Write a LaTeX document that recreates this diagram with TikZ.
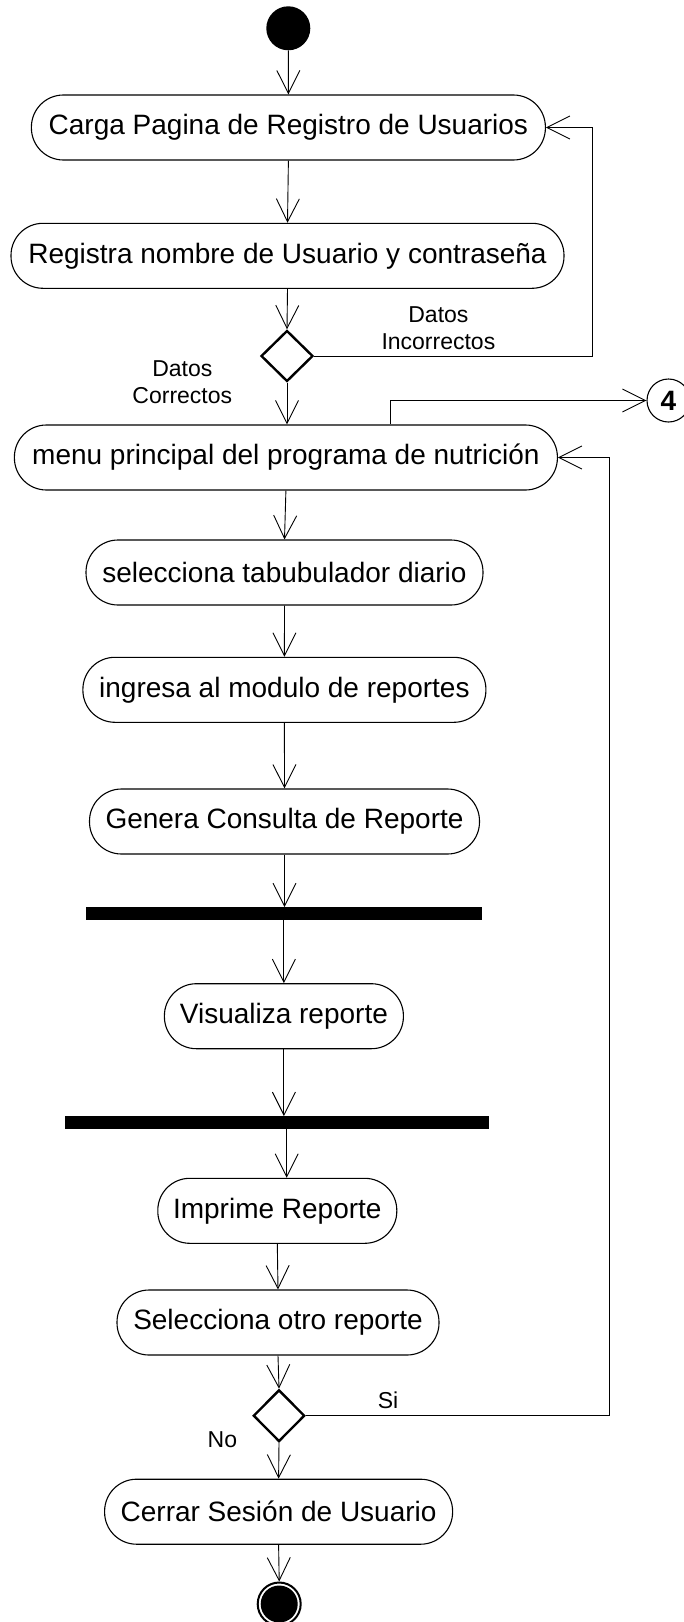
\documentclass[tikz,border=0pt]{standalone}
\usepackage{fontspec}
\setmainfont{Liberation Sans}
\usetikzlibrary{arrows.meta,shapes.geometric}
\begin{document}
\begin{tikzpicture}[x=1pt,y=-1pt,
  act/.style={draw, line width=1.1pt, rounded corners=32pt, minimum height=65pt, inner sep=0pt, font=\fontsize{28}{33}\selectfont},
  dec/.style={draw, diamond, line width=2.4pt, minimum width=52pt, minimum height=51pt, inner sep=0pt},
  syncbar/.style={fill=black, inner sep=0pt, minimum height=12.5pt},
  flow/.style={line width=0.9pt, -{Straight Barb[length=23pt,width=23pt]}},
  lbl/.style={font=\fontsize{23}{27}\selectfont, align=center, inner sep=0pt, anchor=north},
]
\useasboundingbox (0,0) rectangle (684,1622);

\node[circle, fill=black, minimum size=44pt, inner sep=0pt] (init) at (288.3,28.3) {};
\node[act, minimum width=514pt] (carga) at (288.4,127.5) {Carga Pagina de Registro de Usuarios};
\node[act, minimum width=553pt] (registra) at (287.5,255.8) {Registra nombre de Usuario y contraseña};
\node[dec] (d1) at (287,356) {};
\node[act, minimum width=543pt] (menu) at (285.9,457.5) {menu principal del programa de nutrición};
\node[act, minimum width=397pt] (sel) at (284.5,572.5) {selecciona tabubulador diario};
\node[act, minimum width=403pt] (ing) at (284.4,689.8) {ingresa al modulo de reportes};
\node[act, minimum width=390pt] (gen) at (284.5,821.5) {Genera Consulta de Reporte};
\node[syncbar, minimum width=395.5pt] (bar1) at (284,913.6) {};
\node[act, minimum width=239pt] (vis) at (283.9,1016.2) {Visualiza reporte};
\node[syncbar, minimum width=424pt] (bar2) at (277.3,1122.5) {};
\node[act, minimum width=239pt] (imp) at (277.3,1210.8) {Imprime Reporte};
\node[act, minimum width=322pt] (otro) at (278,1322.5) {Selecciona otro reporte};
\node[dec, minimum width=51.4pt, minimum height=51.7pt] (d2) at (279,1415.7) {};
\node[act, minimum width=348pt] (cerrar) at (278.6,1511.7) {Cerrar Sesión de Usuario};
\node[circle, draw, line width=2pt, minimum size=43pt, inner sep=0pt] (fin) at (279.2,1604) {};
\fill (fin.center) circle (18.5pt);
\node[circle, draw, line width=1.1pt, minimum size=43pt, inner sep=0pt, font=\bfseries\fontsize{28}{28}\selectfont] (c4) at (668.5,400.5) {4};

\node[lbl] (lInc) at (438.4,306) {Datos\\Incorrectos};
\node[lbl] (lCor) at (182.3,360) {Datos\\Correctos};
\node[lbl] (lSi) at (388,1391.5) {Si};
\node[lbl] (lNo) at (222.4,1431) {No};

\coordinate (r1) at (592.4,0);
\coordinate (r2) at (609.6,0);
\coordinate (impin) at ([xshift=9.4pt]imp.north);
\coordinate (menuout) at ([xshift=104.5pt]menu.north);

\draw[flow] (init.south) -- (carga.north);
\draw[flow] (carga.south) -- (registra.north);
\draw[flow] (registra.south) -- (d1.north);
\draw[flow] (d1.east) -- (d1.east -| r1) |- (carga.east);
\draw[flow] (d1.south) -- (d1.south |- menu.north);
\draw[flow] (menuout) |- (c4.west);
\draw[flow] (menu.south) -- (sel.north);
\draw[flow] (sel.south) -- (ing.north);
\draw[flow] (ing.south) -- (gen.north);
\draw[flow] (gen.south) -- (gen.south |- bar1.north);
\draw[flow] (vis.south |- bar1.south) -- (vis.north);
\draw[flow] (vis.south) -- (vis.south |- bar2.north);
\draw[flow] (bar2.south -| impin) -- (impin);
\draw[flow] (imp.south) -- (otro.north);
\draw[flow] (otro.south) -- (d2.north);
\draw[flow] (d2.east) -- (d2.east -| r2) |- (menu.east);
\draw[flow] (d2.south) -- (cerrar.north);
\draw[flow] (cerrar.south) -- (fin.north);
\end{tikzpicture}
\end{document}
